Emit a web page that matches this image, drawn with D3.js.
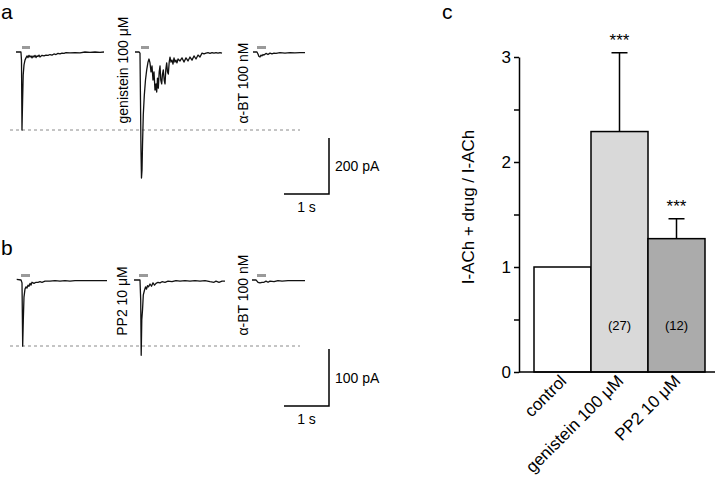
<!DOCTYPE html>
<html>
<head>
<meta charset="utf-8">
<script src="https://cdn.jsdelivr.net/npm/d3@7"></script>
<style>
  html, body { margin: 0; padding: 0; background: #fff; }
  svg { display: block; font-family: "Liberation Sans", Arial, sans-serif; }
</style>
</head>
<body>
<div id="fig"></div>
<script>
// ---- traces, time in ms from trace start, current in pA ----
const traceA1 = [[0,0],[110,0],[122,-29],[133,-279],[147,-171],[160,-82],[178,-46],[200,-29],[222,-21],[244,-14],[267,-20],[289,-12],[311,-18],[333,-14],[356,-21],[378,-14],[400,-18],[422,-12],[444,-20],[467,-14],[489,-16],[511,-11],[533,-18],[578,-12],[622,-14],[667,-11],[711,-12],[756,-9],[800,-11],[844,-7],[889,-9],[933,-5],[978,-7],[1022,-4],[1067,-5],[1111,-2],[1200,-3],[1311,-2],[1422,-3],[1533,0],[1644,-1],[1756,0],[1867,-1],[1956,0]];
const traceA2 = [[0,0],[89,0],[111,-4],[122,-171],[133,-350],[144,-450],[156,-421],[167,-332],[184,-225],[207,-154],[233,-100],[260,-64],[289,-36],[311,-25],[333,-39],[356,-71],[378,-50],[400,-100],[422,-71],[444,-136],[467,-114],[482,-143],[500,-93],[518,-129],[538,-71],[556,-50],[573,-100],[593,-114],[611,-79],[629,-64],[649,-100],[667,-114],[684,-64],[704,-39],[722,-71],[740,-79],[760,-36],[778,-18],[800,-36],[822,-29],[844,-43],[867,-21],[889,-36],[911,-29],[933,-39],[956,-25],[1000,-32],[1044,-21],[1089,-36],[1133,-21],[1178,-32],[1222,-18],[1267,-29],[1311,-14],[1356,-25],[1400,-11],[1444,-18],[1489,-4],[1533,-7],[1578,-4],[1622,-2],[1667,-5],[1711,-2],[1756,-4],[1800,-2],[1844,-4],[1889,-2],[1933,-4]];
const traceA3 = [[44,0],[133,0],[155,-7],[177,-16],[200,-18],[222,-11],[244,-14],[266,-9],[288,-11],[333,-5],[377,-9],[422,-4],[466,-7],[511,-4],[555,-5],[644,-2],[755,-4],[866,-2],[977,-3],[1088,-2],[1200,-2]];
const traceB1 = [[0,1],[96,0],[118,-5],[133,-116],[147,-70],[162,-30],[184,-16],[207,-12],[229,-14],[251,-9],[273,-11],[296,-6],[318,-9],[340,-4],[384,-6],[429,-4],[473,-4],[518,-3],[562,-4],[629,-2],[740,-2],[851,-1],[962,-2],[1073,-1],[1184,-2],[1296,-1],[1407,-1],[1518,-1],[1629,-1],[1740,-1],[1851,-1],[2007,-1]];
const traceB2 = [[0,0],[133,0],[149,-35],[160,-132],[173,-70],[189,-53],[207,-26],[233,-18],[256,-12],[278,-16],[300,-10],[322,-12],[356,-7],[389,-11],[422,-5],[456,-9],[489,-6],[533,-4],[578,-5],[622,-3],[689,-4],[756,-2],[844,-3],[933,-1],[1022,-2],[1133,-1],[1244,-2],[1356,-1],[1467,-2],[1578,-1],[1689,-3],[1778,-4],[1822,-2],[1889,-4],[1956,-2],[2022,-2]];
const traceB3 = [[0,0],[89,0],[111,-2],[133,-4],[178,-5],[222,-4],[267,-4],[311,-2],[356,-4],[400,-2],[489,-3],[578,-1],[667,-2],[800,-1],[933,-1],[1067,-1],[1178,-1]];

// drug (ACh) application windows, ms
const puffA = [[133, 311], [133, 311], [133, 333]];
const puffB = [[96, 296], [111, 311], [111, 311]];

const drugLabelsA = ["genistein 100 \u03BCM", "\u03B1-BT 100 nM"];
const drugLabelsB = ["PP2 10 \u03BCM", "\u03B1-BT 100 nM"];

// ---- panel c ----
const categories = ["control", "genistein 100 \u03BCM", "PP2 10 \u03BCM"];
const means = [1, 2.29, 1.27];
const sems = [0, 0.75, 0.19];
const nCells = [null, 27, 12];
const signif = ["", "***", "***"];
const barFills = ["#ffffff", "#d9d9d9", "#ababab"];
const yTicks = [0, 0.5, 1, 1.5, 2, 2.5, 3];

const width = 720, height = 480;
const svg = d3.select("#fig").append("svg")
    .attr("width", width)
    .attr("height", height);
svg.append("rect").attr("width", width).attr("height", height).attr("fill", "#fff");

// shared time scale: 1 s = 45 px
const tScale = d3.scaleLinear().domain([0, 1000]).range([0, 45]);
const yA = d3.scaleLinear().domain([0, -200]).range([52, 108]);
const yB = d3.scaleLinear().domain([0, -100]).range([280, 337]);

function drawPanel(traces, puffs, xStarts, yScale, dashY, labels, labelX, labelY, scaleBar) {
    const g = svg.append("g");
    g.append("line")
        .attr("x1", 10).attr("x2", 300)
        .attr("y1", dashY).attr("y2", dashY)
        .attr("stroke", "#8a8a8a").attr("stroke-width", 1)
        .attr("stroke-dasharray", "3,3");

    traces.forEach((tr, i) => {
        const x0 = xStarts[i];
        const line = d3.line()
            .x(d => x0 + tScale(d[0]))
            .y(d => yScale(d[1]));
        g.append("path")
            .attr("d", line(tr))
            .attr("fill", "none")
            .attr("stroke", "#111")
            .attr("stroke-width", 1.3)
            .attr("stroke-linejoin", "round");
        // application bar
        g.append("line")
            .attr("x1", x0 + tScale(puffs[i][0]))
            .attr("x2", x0 + tScale(puffs[i][1]))
            .attr("y1", yScale(0) - 4.5).attr("y2", yScale(0) - 4.5)
            .attr("stroke", "#9a9a9a").attr("stroke-width", 3);
    });

    labels.forEach((t, i) => {
        g.append("text")
            .attr("transform", `translate(${labelX[i]},${labelY[i]}) rotate(-90)`)
            .attr("text-anchor", "middle")
            .attr("dy", "0.35em")
            .attr("font-size", 14)
            .text(t);
    });

    // scale bars
    const sb = scaleBar;
    const vLen = yScale(-sb.pA) - yScale(0);
    const hLen = tScale(1000);
    g.append("path")
        .attr("d", `M${sb.x - hLen},${sb.y} H${sb.x} V${sb.y - vLen}`)
        .attr("fill", "none").attr("stroke", "#000").attr("stroke-width", 1.5);
    g.append("text")
        .attr("x", sb.x + 6).attr("y", sb.y - vLen / 2 + 5)
        .attr("font-size", 14)
        .text(sb.pA + " pA");
    g.append("text")
        .attr("x", sb.x - hLen / 2).attr("y", sb.y + 18)
        .attr("text-anchor", "middle")
        .attr("font-size", 14)
        .text("1 s");
}

drawPanel([traceA1, traceA2, traceA3], puffA, [16, 135, 251], yA, 130,
    drugLabelsA, [123, 243], [70, 83], { x: 329, y: 194, pA: 200 });
drawPanel([traceB1, traceB2, traceB3], puffB, [16.7, 134, 252], yB, 346,
    drugLabelsB, [122, 243], [301, 295], { x: 329, y: 406, pA: 100 });

// panel letters
[["a", 1, 19], ["b", 1, 255], ["c", 442, 19]].forEach(([t, x, y]) => {
    svg.append("text").attr("x", x).attr("y", y)
        .attr("font-size", 21).text(t);
});

// ---- bar chart ----
const yC = d3.scaleLinear().domain([0, 3]).range([372, 57]);
const xC = d3.scaleBand().domain(categories).range([534, 705]).padding(0);

const gc = svg.append("g");
gc.selectAll("rect.bar")
    .data(categories)
    .join("rect")
    .attr("class", "bar")
    .attr("x", d => xC(d))
    .attr("y", (d, i) => yC(means[i]))
    .attr("width", xC.bandwidth())
    .attr("height", (d, i) => yC(0) - yC(means[i]))
    .attr("fill", (d, i) => barFills[i])
    .attr("stroke", "#000")
    .attr("stroke-width", 1.5);

categories.forEach((c, i) => {
    if (!sems[i]) return;
    const cx = xC(c) + xC.bandwidth() / 2;
    const top = yC(means[i] + sems[i]);
    gc.append("path")
        .attr("d", `M${cx},${yC(means[i])} V${top} M${cx - 8},${top} H${cx + 8}`)
        .attr("stroke", "#000").attr("stroke-width", 1.5).attr("fill", "none");
    gc.append("text")
        .attr("x", cx).attr("y", top - 7)
        .attr("text-anchor", "middle")
        .attr("font-size", 17)
        .text(signif[i]);
    gc.append("text")
        .attr("x", cx).attr("y", yC(0.4))
        .attr("text-anchor", "middle")
        .attr("font-size", 13)
        .text("(" + nCells[i] + ")");
});

const yAxis = gc.append("g")
    .attr("transform", "translate(519,0)")
    .call(d3.axisLeft(yC).tickValues(yTicks)
        .tickFormat(d => Number.isInteger(d) ? d : "")
        .tickSize(5).tickSizeOuter(0).tickPadding(3));
yAxis.selectAll("path, line").attr("stroke", "#000").attr("stroke-width", 1.5);
yAxis.selectAll("text").attr("font-size", 17).attr("font-family", "Liberation Sans, Arial, sans-serif").attr("fill", "#000");

gc.append("line")
    .attr("x1", 519).attr("x2", 715)
    .attr("y1", yC(0)).attr("y2", yC(0))
    .attr("stroke", "#000").attr("stroke-width", 1.5);

gc.selectAll("text.xlab")
    .data(categories)
    .join("text")
    .attr("class", "xlab")
    .attr("transform", d => `translate(${xC(d) + xC.bandwidth() / 2 + 5},${yC(0) + 10}) rotate(-45)`)
    .attr("text-anchor", "end")
    .attr("font-size", 17)
    .text(d => d);

gc.append("text")
    .attr("transform", "translate(474,207) rotate(-90)")
    .attr("text-anchor", "middle")
    .attr("font-size", 17)
    .text("I-ACh + drug / I-ACh");
</script>
</body>
</html>
